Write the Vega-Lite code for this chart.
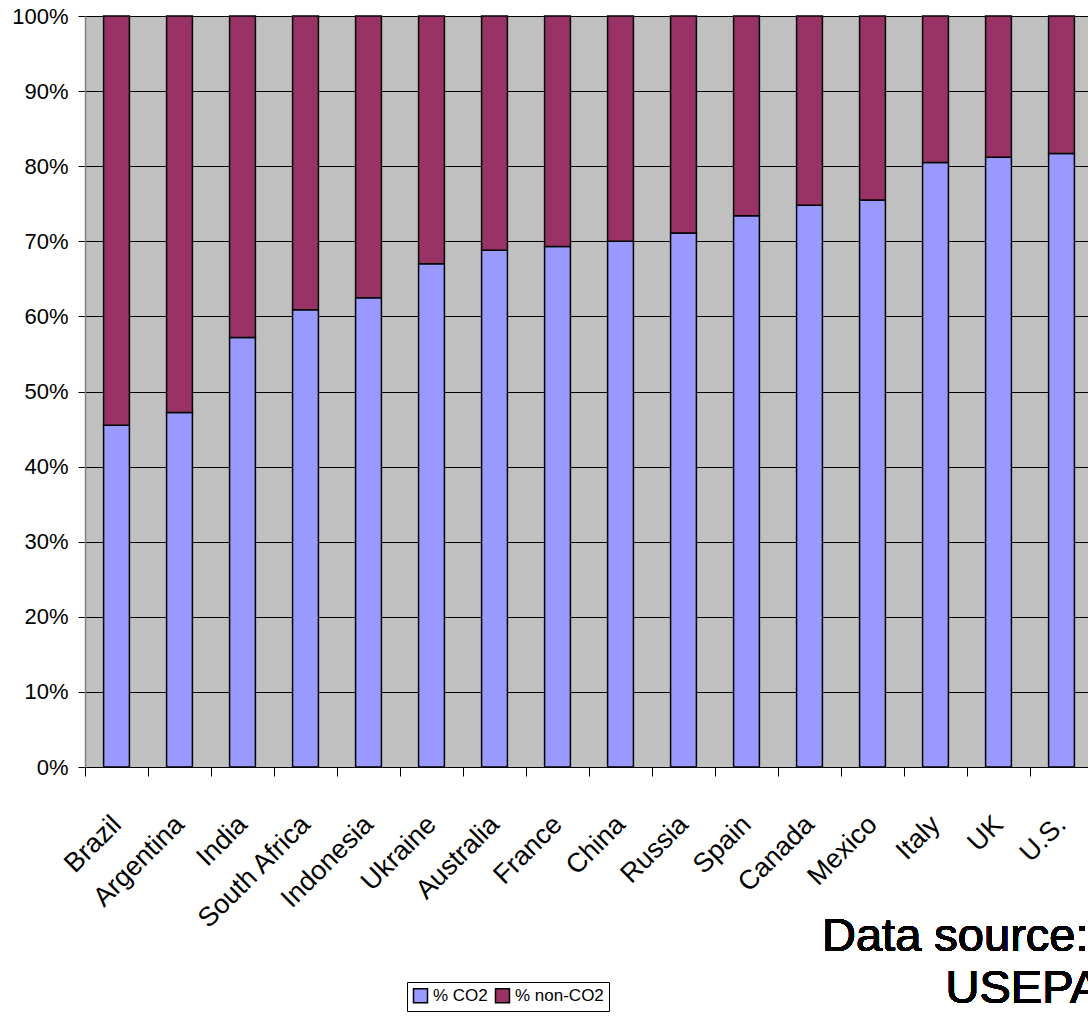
{
  "$schema": "https://vega.github.io/schema/vega-lite/v6.json",
  "width": 1008,
  "height": 751,
  "autosize": "none",
  "padding": {"left": 85, "top": 16, "right": -5, "bottom": 251},
  "background": "white",
  "config": {
    "view": {"fill": "#C0C0C0", "stroke": null},
    "font": "Liberation Sans",
    "axis": {"labelColor": "black", "labelFont": "Liberation Sans"},
    "legend": {"labelFont": "Liberation Sans"}
  },
  "data": {
    "values": [
      {"country": "Brazil", "type": "% CO2", "value": 0.455},
      {"country": "Brazil", "type": "% non-CO2", "value": 0.545},
      {"country": "Argentina", "type": "% CO2", "value": 0.472},
      {"country": "Argentina", "type": "% non-CO2", "value": 0.528},
      {"country": "India", "type": "% CO2", "value": 0.572},
      {"country": "India", "type": "% non-CO2", "value": 0.428},
      {"country": "South Africa", "type": "% CO2", "value": 0.609},
      {"country": "South Africa", "type": "% non-CO2", "value": 0.391},
      {"country": "Indonesia", "type": "% CO2", "value": 0.625},
      {"country": "Indonesia", "type": "% non-CO2", "value": 0.375},
      {"country": "Ukraine", "type": "% CO2", "value": 0.670},
      {"country": "Ukraine", "type": "% non-CO2", "value": 0.330},
      {"country": "Australia", "type": "% CO2", "value": 0.688},
      {"country": "Australia", "type": "% non-CO2", "value": 0.312},
      {"country": "France", "type": "% CO2", "value": 0.693},
      {"country": "France", "type": "% non-CO2", "value": 0.307},
      {"country": "China", "type": "% CO2", "value": 0.700},
      {"country": "China", "type": "% non-CO2", "value": 0.300},
      {"country": "Russia", "type": "% CO2", "value": 0.711},
      {"country": "Russia", "type": "% non-CO2", "value": 0.289},
      {"country": "Spain", "type": "% CO2", "value": 0.734},
      {"country": "Spain", "type": "% non-CO2", "value": 0.266},
      {"country": "Canada", "type": "% CO2", "value": 0.748},
      {"country": "Canada", "type": "% non-CO2", "value": 0.252},
      {"country": "Mexico", "type": "% CO2", "value": 0.755},
      {"country": "Mexico", "type": "% non-CO2", "value": 0.245},
      {"country": "Italy", "type": "% CO2", "value": 0.805},
      {"country": "Italy", "type": "% non-CO2", "value": 0.195},
      {"country": "UK", "type": "% CO2", "value": 0.812},
      {"country": "UK", "type": "% non-CO2", "value": 0.188},
      {"country": "U.S.", "type": "% CO2", "value": 0.817},
      {"country": "U.S.", "type": "% non-CO2", "value": 0.183}
    ]
  },
  "layer": [
    {
      "mark": {"type": "bar", "stroke": "black", "strokeWidth": 1.5, "width": {"band": 0.41}},
      "encoding": {
        "x": {
          "field": "country",
          "type": "nominal",
          "sort": null,
          "scale": {"paddingInner": 0, "paddingOuter": 0},
          "axis": {
            "title": null,
            "labelAngle": -45,
            "labelAlign": "right",
            "labelBaseline": "middle",
            "labelFontSize": 27,
            "labelPadding": 44,
            "labelOverlap": false,
            "tickBand": "extent",
            "tickSize": 9,
            "tickColor": "black",
            "tickWidth": 1,
            "domainColor": "black",
            "domainWidth": 1,
            "grid": false
          }
        },
        "y": {
          "field": "value",
          "type": "quantitative",
          "stack": "zero",
          "scale": {"domain": [0, 1], "nice": false},
          "axis": {
            "title": null,
            "values": [0, 0.1, 0.2, 0.3, 0.4, 0.5, 0.6, 0.7, 0.8, 0.9, 1],
            "format": ".0%",
            "labelFontSize": 22,
            "labelPadding": 10,
            "tickSize": 7,
            "tickColor": "black",
            "domainColor": "#808080",
            "domainWidth": 1.5,
            "grid": true,
            "gridColor": "black",
            "gridWidth": 1,
            "gridOpacity": 1
          }
        },
        "order": {"field": "type", "sort": "ascending"},
        "color": {
          "field": "type",
          "type": "nominal",
          "scale": {"domain": ["% CO2", "% non-CO2"], "range": ["#9999FF", "#993366"]},
          "legend": {
            "title": null,
            "orient": "none",
            "legendX": 322,
            "legendY": 966,
            "direction": "horizontal",
            "strokeColor": "black",
            "fillColor": "white",
            "padding": 5,
            "symbolType": "square",
            "symbolSize": 196,
            "symbolStrokeColor": "black",
            "symbolStrokeWidth": 1.5,
            "symbolOpacity": 1,
            "labelFontSize": 17,
            "labelOffset": 4,
            "labelColor": "black",
            "columnPadding": 4
          }
        }
      }
    },
    {
      "mark": {
        "type": "text",
        "text": "Data source:",
        "font": "Liberation Sans",
        "fontWeight": "normal",
        "fontSize": 47,
        "align": "right",
        "baseline": "alphabetic",
        "color": "black",
        "dx": 27
      },
      "encoding": {
        "x": {"datum": "U.S."},
        "y": {"datum": -0.245}
      }
    },
    {
      "mark": {
        "type": "text",
        "text": "USEPA",
        "font": "Liberation Sans",
        "fontWeight": "normal",
        "fontSize": 47,
        "align": "left",
        "baseline": "alphabetic",
        "color": "black",
        "dx": 10
      },
      "encoding": {
        "x": {"datum": "Italy"},
        "y": {"datum": -0.314}
      }
    }
  ]
}
